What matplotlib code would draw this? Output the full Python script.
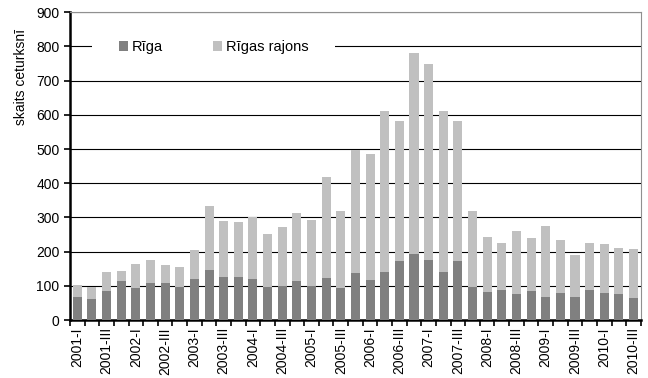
import matplotlib.pyplot as plt
import matplotlib.patches as mpatches
import numpy as np

plt.rcParams['font.family'] = ['Liberation Sans', 'DejaVu Sans']

ceturksni = [f"{g}-{q}" for g in range(2001, 2011) for q in ["I", "II", "III", "IV"]][:39]

riga = [69, 63, 86, 113, 95, 110, 110, 98, 119, 148, 125, 125, 119, 98, 101, 113,
        101, 122, 95, 139, 116, 142, 172, 192, 175, 142, 172, 96, 83, 89, 75, 86,
        69, 80, 69, 89, 80, 77, 66]
kopa = [104, 96, 142, 145, 163, 177, 160, 154, 204, 333, 289, 286, 301, 251, 272, 313,
        292, 419, 319, 496, 486, 610, 583, 780, 748, 610, 583, 319, 242, 225, 260, 239,
        275, 233, 189, 225, 222, 210, 207]
rajons = [k - r for k, r in zip(kopa, riga)]

x = np.arange(len(ceturksni))

fig = plt.figure(figsize=(6.48, 3.78), dpi=100)
ax = fig.add_axes([0.108, 0.153, 0.881, 0.815])

ax.bar(x, riga, width=0.62, color='#808080', label='Rīga', zorder=3)
ax.bar(x, rajons, width=0.62, bottom=riga, color='#c0c0c0', label='Rīgas rajons', zorder=3)

ax.set_xlim(-0.5, len(x) - 0.5)
ax.set_ylim(0, 900)
ax.set_yticks(range(0, 901, 100))
ax.yaxis.grid(True, color='black', linewidth=0.8)

ax.set_xticks(x[::2])
ax.set_xticklabels(ceturksni[::2], rotation=90, fontsize=10)
ax.set_xticks(np.arange(-0.5, len(x), 1), minor=True)
ax.tick_params(axis='x', which='major', length=0, pad=5)
ax.tick_params(axis='x', which='minor', length=4, width=1.2, direction='out')
ax.tick_params(axis='y', length=4, width=1.2, labelsize=10)

ax.set_ylabel('skaits ceturksnī', fontsize=10)
ax.yaxis.set_label_coords(-0.074, 0.79)

for s in ['left', 'bottom']:
    ax.spines[s].set_linewidth(1.8)
for s in ['top', 'right']:
    ax.spines[s].set_color('#909090')
    ax.spines[s].set_linewidth(0.8)

# balts laukums aiz leģendas
ax.add_patch(mpatches.Rectangle((0.0385, 0.86), 0.4255, 0.05, transform=ax.transAxes,
                                facecolor='white', edgecolor='none', zorder=2))

leg = ax.legend(loc='center left', bbox_to_anchor=(0.0858, 0.886), ncol=2,
                fontsize=10.5, frameon=False, handlelength=0.65, handleheight=0.65,
                handletextpad=0.25, columnspacing=3.4, borderpad=0, borderaxespad=0)
leg.set_zorder(5)

fig.savefig('out.png', dpi=100)
